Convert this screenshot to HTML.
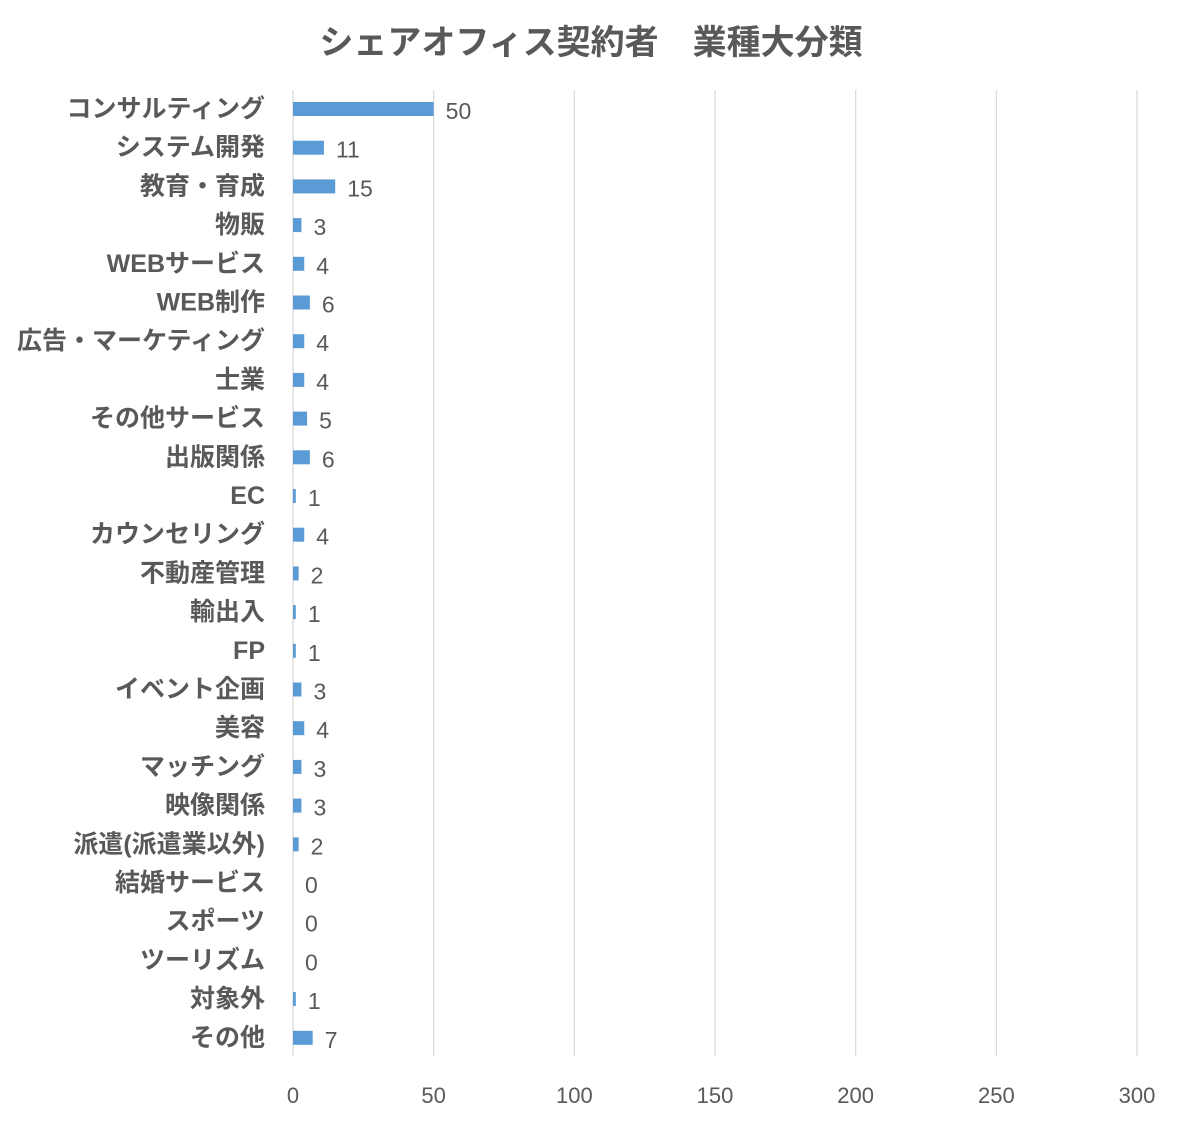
<!DOCTYPE html>
<html><head><meta charset="utf-8"><style>
body{margin:0;background:#fff;}
svg text{font-family:"Liberation Sans","Noto Sans CJK JP",sans-serif;fill:#595959;}
</style></head><body>
<svg width="1181" height="1125" xmlns="http://www.w3.org/2000/svg">
<rect width="1181" height="1125" fill="#fff"/>
<text x="591" y="54" font-size="34" font-weight="600" text-anchor="middle">シェアオフィス契約者　業種大分類</text>
<g id="g"></g>
</svg>
<script>
const d=[["コンサルティング",50],["システム開発",11],["教育・育成",15],["物販",3],["WEBサービス",4],["WEB制作",6],["広告・マーケティング",4],["士業",4],["その他サービス",5],["出版関係",6],["EC",1],["カウンセリング",4],["不動産管理",2],["輸出入",1],["FP",1],["イベント企画",3],["美容",4],["マッチング",3],["映像関係",3],["派遣(派遣業以外)",2],["結婚サービス",0],["スポーツ",0],["ツーリズム",0],["対象外",1],["その他",7]];
const x0=293,sc=844/300,y0=109,st=38.7;let s="";
for(let i=0;i<=6;i++){const x=x0+i*50*sc;s+=`<line x1="${x}" y1="90" x2="${x}" y2="1056" stroke="#d9d9d9" stroke-width="1.3"/><text x="${x}" y="1103" font-size="22" text-anchor="middle">${i*50}</text>`;}
d.forEach((r,i)=>{const y=y0+i*st,w=r[1]*sc;
s+=`<text x="265" y="${y+8}" font-size="25" font-weight="600" text-anchor="end" textLength="${0}">${r[0]}</text>`.replace(' textLength="0"','');
if(w>0)s+=`<rect x="${x0}" y="${y-7}" width="${w}" height="14" fill="#5b9bd5"/>`;
s+=`<text x="${x0+w+12}" y="${y+10}" font-size="23">${r[1]}</text>`;});
document.getElementById("g").innerHTML=s;
</script>
</body></html>
